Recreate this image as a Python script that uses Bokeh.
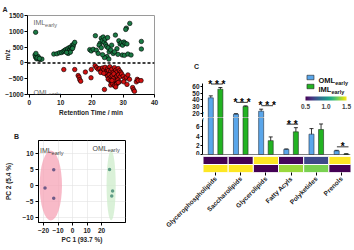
import math
from bokeh.plotting import figure
from bokeh.models import (Span, Label, Whisker, TeeHead, ColumnDataSource,
                          LinearColorMapper, ColorBar, FixedTicker, PrintfTickFormatter)
from bokeh.layouts import row, column
from bokeh.palettes import Viridis256
from bokeh.transform import transform
from bokeh.embed import file_html
from bokeh.resources import INLINE

FONT = "Liberation Sans"

# ---------------- data: panel A (retention time vs m/z) ----------------
iml_rt = [2.0, 1.8, 2.0, 2.3, 2.8, 3.0, 3.5, 4.0, 2.1, 2.5, 3.2,
          7.8, 8.8, 9.6, 10.3, 10.8, 11.2, 11.6, 12.0, 12.2, 12.5, 12.7, 13.0, 13.2, 13.5, 13.7, 14.0, 14.2, 14.5, 12.4, 13.1, 11.9, 13.8,
          19.3, 19.8, 20.4, 21.1, 21.4, 22.0, 22.6, 23.0, 23.3, 23.6, 23.9, 24.2, 24.4, 24.7, 25.0, 25.2, 25.5, 24.8, 25.4, 24.0, 23.4,
          26.0, 26.3, 26.8, 27.5, 28.0, 28.6, 29.0, 29.4, 29.8, 30.2, 30.6, 31.0, 30.8, 31.2, 32.1, 29.7, 30.4, 31.5, 32.5, 28.3, 27.2, 35.8, 35.8, 22.3, 23.0]
iml_mz = [970, 250, 180, 130, 200, 120, 110, 120, 300, 160, 140,
          280, 290, 320, 330, 360, 390, 420, 380, 450, 350, 480, 420, 500, 440, 560, 520, 600, 650, 300, 340, 330, 460,
          420, 380, 430, 860, 400, 300, 620, 780, 700, 820, 650, 750, 580, 520, 800, 480, 350, 200, 120, 170, 260,
          410, 560, 300, 880, 450, 700, 600, 640, 560, 660, 620, 1100, 1060, 600, 1250, 250, 240, 280, 250, 270, 350, 680, 440, 560, 480]
oml_rt = [11.0, 14.5, 15.6, 15.9, 16.1, 16.4, 17.9, 19.7, 19.8,
          21.0, 21.5, 22.0, 22.5, 23.0, 23.4, 23.8, 24.2, 24.6, 25.0, 25.3, 25.7, 26.0, 26.4, 26.8, 27.2, 27.6, 28.0, 28.4, 28.8, 29.2,
          24.5, 25.0, 25.5, 26.0, 26.5, 27.0, 27.5, 28.0, 28.5, 29.0,
          25.2, 25.8, 26.3, 26.8, 27.3, 27.8, 28.3, 28.8,
          26.0, 26.6, 27.2, 27.8, 28.4, 26.4, 27.6,
          29.5, 30.0, 30.5, 31.0, 31.5, 32.0, 30.2, 31.2,
          24.0, 33.0, 33.3, 33.6, 34.2, 34.5, 34.8, 35.7, 22.8, 23.8]
oml_mz = [-210, -210, -400, -450, -530, -580, -290, -470, -210,
          -90, -150, -200, -180, -250, -160, -220, -140, -280, -190, -240, -120, -260, -200, -300, -150, -230, -280, -180, -250, -300,
          -350, -420, -380, -450, -400, -350, -470, -420, -380, -440,
          -520, -560, -600, -500, -580, -650, -540, -600,
          -700, -650, -720, -680, -620, -560, -760,
          -350, -420, -500, -450, -380, -520, -600, -680,
          -840, -780, -850, -900, -600, -520, -560, -560, -300, -330]
a_xticks = [0, 10, 20, 30, 40]
a_yticks = [-1000, -500, 0, 500, 1000, 1500]

# ---------------- data: panel B (PCA) ----------------
pc1_iml = [-19.0, -13.0, -13.0]
pc2_iml = [-0.8, 4.9, -4.0]
pc1_oml = [25.5, 27.6, 27.0]
pc2_oml = [5.0, -1.7, -3.3]
ell_cx = [-15.0, 26.6]
ell_cy = [0.0, 0.0]
ell_w = [15.4, 6.3]
ell_h = [21.8, 21.8]
b_xticks = [-20, -10, 0, 10, 20]
b_yticks = [-10, -5, 0, 5, 10]

# ---------------- data: panel C (lipid classes) ----------------
categories = ["Glycerophospholipids", "Saccharolipids", "Glycerolipids",
              "Fatty Acyls", "Polyketides", "Prenols"]
oml_mol = [43.0, 18.5, 23.0, 1.1, 4.4, 0.8]
oml_err = [3.0, 0.8, 3.0, 0.1, 1.2, 0.1]
iml_mol = [56.0, 30.0, 3.0, 4.9, 5.4, 0.1]
iml_err = [2.5, 1.0, 0.8, 0.9, 1.2, 0.05]
sig_text = ["* * *", "* * *", "* * *", "* *", "", "*"]
heat_oml = [0.5, 0.5, 1.5, 0.52, 0.72, 1.5]
heat_iml = [1.5, 1.5, 0.5, 1.35, 1.3, 0.5]
c_top_ticks = [20, 30, 40, 50, 60]
c_bot_ticks = [0, 2, 4, 6]
cbar_ticks = [0.5, 1.0, 1.5]

BLUE = "#5aa6ea"
GREEN = "#22b322"

# em widths (Arial / Liberation Sans) for subscript placement
EM = {("IML", False): 1.667, ("OML", False): 2.167,
      ("IML", True): 1.722, ("OML", True): 2.222}


def style_axis(ax, size="6.5px"):
    ax.major_label_text_font = FONT
    ax.major_label_text_font_style = "bold"
    ax.major_label_text_font_size = size
    ax.major_label_text_color = "#222222"
    ax.axis_label_text_font = FONT
    ax.axis_label_text_font_style = "bold"
    ax.axis_label_text_font_size = size
    ax.axis_label_text_color = "#222222"
    ax.minor_tick_line_color = None
    ax.major_tick_in = 0
    ax.major_tick_out = 3
    ax.major_label_standoff = 2


def panel_letter(p, text, offset, standoff):
    p.title.text = text
    p.title.align = "left"
    p.title.offset = offset
    p.title.standoff = standoff
    p.title.text_font = FONT
    p.title.text_font_size = "7px"
    p.title.text_font_style = "bold"
    p.title.text_color = "#222222"


def lab(p, x, y, text, size, color="#222222", bold=True, align="left",
        baseline="alphabetic", x_offset=0, angle=0):
    p.add_layout(Label(x=x, y=y, text=text, text_font=FONT,
                       text_font_size=size, text_color=color,
                       text_font_style="bold" if bold else "normal",
                       text_align=align, text_baseline=baseline,
                       x_offset=x_offset, angle=angle))


def sub_label(p, x, y, dy, main, size, sub_size, color, bold, align="left"):
    w = EM[(main, bold)] * float(size[:-2])
    if align == "left":
        lab(p, x, y, main, size, color, bold, "left")
        lab(p, x, y - dy, "early", sub_size, color, bold, "left", x_offset=w)
    else:
        sw = (2.335 if bold else 2.167) * float(sub_size[:-2])
        lab(p, x, y - dy, "early", sub_size, color, bold, "right")
        lab(p, x, y, main, size, color, bold, "right", x_offset=-sw)


# ================= Panel A =================
pA = figure(width=160, height=125, x_range=(-0.6, 40), y_range=(-1000, 1500),
            output_backend="svg", toolbar_location=None,
            min_border_left=27, min_border_right=6, min_border_top=15,
            min_border_bottom=31)
pA.grid.visible = False
pA.outline_line_color = "#9a9a9a"
pA.xaxis.ticker = FixedTicker(ticks=a_xticks)
pA.yaxis.ticker = FixedTicker(ticks=a_yticks)
pA.xaxis.axis_label = "Retention Time / min"
pA.yaxis.axis_label = "m/z"
style_axis(pA.xaxis[0])
style_axis(pA.yaxis[0])
pA.yaxis.major_label_standoff = 1
pA.yaxis.axis_label_standoff = -9
pA.xaxis.axis_label_standoff = 1
pA.add_layout(Span(location=0, dimension="width", line_color="black",
                   line_width=1.5, line_dash="3 2"))
pA.scatter(iml_rt, iml_mz, size=4.5, fill_color="#1b7a45", line_color="black", line_width=0.6)
pA.scatter(oml_rt, oml_mz, size=4.5, fill_color="#d10f0f", line_color="black", line_width=0.6)
sub_label(pA, 1.3, 1263, 63, "IML", "7px", "5.5px", "#666666", False)
sub_label(pA, 1.3, -921, 63, "OML", "7px", "5.5px", "#666666", False)
panel_letter(pA, "A", -25, 6)

# ================= Panel B =================
pB = figure(width=134, height=125, x_range=(-23.5, 36.5), y_range=(-11.56, 14.06),
            output_backend="svg", toolbar_location=None,
            min_border_left=38, min_border_right=9, min_border_top=15,
            min_border_bottom=28)
pB.outline_line_color = "black"
pB.grid.grid_line_color = "#e3e3e3"
pB.grid.grid_line_width = 0.6
pB.xaxis.ticker = FixedTicker(ticks=b_xticks)
pB.yaxis.ticker = FixedTicker(ticks=b_yticks)
pB.xaxis.axis_label = "PC 1 (93.7 %)"
pB.yaxis.axis_label = "PC 2 (5.4 %)"
style_axis(pB.xaxis[0])
style_axis(pB.yaxis[0])
pB.xaxis.axis_label_standoff = 0
pB.yaxis.axis_label_standoff = 7
pB.ellipse(x=ell_cx, y=ell_cy, width=ell_w, height=ell_h,
           fill_color=["#f5a3b6", "#cdeccb"], fill_alpha=0.75, line_color=None)
pB.scatter(pc1_iml, pc2_iml, size=3.5, fill_color="#6e5a88", line_color=None)
pB.scatter(pc1_oml, pc2_oml, size=3.5, fill_color="#5f9c86", line_color=None)
sub_label(pB, -22.5, 10.9, 0.6, "IML", "7px", "5.5px", "#444444", False)
sub_label(pB, 13.8, 11.6, 0.6, "OML", "7px", "5.5px", "#444444", False)
panel_letter(pB, "B", -24.5, 1)

# ================= Panel C =================
XR = (-0.52, 5.36)
xs = list(range(len(categories)))
x_oml = [i - 0.19 for i in xs]
x_iml = [i + 0.19 for i in xs]


def bar_fig(height, yr, btop, bbot, ticks, bounds):
    p = figure(width=194, height=height, x_range=XR, y_range=yr,
               x_axis_location=None, output_backend="svg", toolbar_location=None,
               min_border_left=42, min_border_right=4, min_border_top=btop,
               min_border_bottom=bbot)
    p.grid.visible = False
    p.outline_line_color = None
    p.yaxis.ticker = FixedTicker(ticks=ticks)
    p.yaxis.bounds = bounds
    style_axis(p.yaxis[0])
    p.yaxis.major_tick_out = 2
    p.yaxis.major_label_standoff = 1
    p.vbar(x=x_oml, top=oml_mol, width=0.2, fill_color=BLUE, line_color="#223344", line_width=0.6)
    p.vbar(x=x_iml, top=iml_mol, width=0.2, fill_color=GREEN, line_color="#223322", line_width=0.6)
    lo, hi = yr
    for xx, vv, ee in ((x_oml, oml_mol, oml_err), (x_iml, iml_mol, iml_err)):
        keep = [i for i in xs if lo < vv[i] < hi]
        src = ColumnDataSource(dict(x=[xx[i] for i in keep],
                                    upper=[vv[i] + ee[i] for i in keep],
                                    lower=[vv[i] - ee[i] for i in keep]))
        p.add_layout(Whisker(source=src, base="x", upper="upper", lower="lower",
                             line_color="black", line_width=0.8,
                             upper_head=TeeHead(size=4, line_width=0.8),
                             lower_head=TeeHead(size=4, line_width=0.8)))
    return p


pC1 = bar_fig(117, (13.56, 84.0), 70, 0, c_top_ticks, (14, 64.5))
pC2 = bar_fig(38, (0, 8.0), 0, 1, c_bot_ticks, (0, 7.6))
pC2.add_layout(Span(location=0, dimension="width", line_color="black", line_width=1.2))
panel_letter(pC1, "C", -8.5, 1)

# significance marks
for i, s in enumerate(sig_text):
    if not s:
        continue
    top = max(oml_mol[i] + oml_err[i], iml_mol[i] + iml_err[i])
    if top > 8:
        p, ly = pC1, top + 3.5 / 0.6675
    else:
        p, ly = pC2, top + 3.5 / 4.63
    p.segment(x0=[i - 0.18], x1=[i + 0.28], y0=[ly], y1=[ly], line_color="black", line_width=0.8)
    lab(p, i + 0.05, ly, s, "10px", "black", True, "center", "alphabetic")

# legend
pC1.rect(x=[3.77, 3.77], y=[73.5, 60.0], width=7, height=4.5,
         width_units="screen", height_units="screen",
         fill_color=[BLUE, GREEN], line_color="#222222", line_width=0.6)
sub_label(pC1, 4.09, 69.0, 3.0, "OML", "7.5px", "5.5px", "#111111", True)
sub_label(pC1, 4.09, 55.5, 3.0, "IML", "7.5px", "5.5px", "#111111", True)
mapper = LinearColorMapper(palette=Viridis256, low=0.5, high=1.5)
cb = ColorBar(color_mapper=mapper, orientation="horizontal", location=(103, 6),
              width=41, height=4, padding=0, ticker=FixedTicker(ticks=cbar_ticks),
              formatter=PrintfTickFormatter(format="%.1f"),
              major_label_text_font=FONT, major_label_text_font_size="6.5px",
              major_label_text_font_style="bold", major_tick_line_color=None,
              bar_line_color=None, background_fill_alpha=0, border_line_color=None,
              label_standoff=3)
pC1.add_layout(cb)
lab(pC1, -0.52, 18.05, "/", "7px", "black", True, "center", "middle")
lab(pC2, -0.52, 7.35, "/", "7px", "black", True, "center", "middle")
lab(pC1, -1.08, 27.8, "mol%", "6.5px", "#222222", True, "center", "middle", angle=math.pi / 2)

# heatmap
pC3 = figure(width=194, height=95, x_range=XR, y_range=(0, 2),
             y_axis_location=None, output_backend="svg", toolbar_location=None,
             min_border_left=42, min_border_right=4, min_border_top=1,
             min_border_bottom=78)
pC3.grid.visible = False
pC3.outline_line_color = None
hsrc = ColumnDataSource(dict(x=xs + xs, y=[1.5] * len(xs) + [0.5] * len(xs),
                             v=heat_oml + heat_iml))
pC3.rect(x="x", y="y", width=1, height=1, source=hsrc,
         fill_color=transform("v", mapper), line_color="white", line_width=1)
pC3.xaxis.ticker = FixedTicker(ticks=xs)
pC3.xaxis.major_label_overrides = {i: c for i, c in enumerate(categories)}
pC3.xaxis.major_label_orientation = math.pi / 4
style_axis(pC3.xaxis[0])
pC3.xaxis.axis_line_color = None
pC3.xaxis.major_tick_out = 3
sub_label(pC3, -0.64, 1.25, 0.25, "OML", "7px", "5.5px", "#111111", True, "right")
sub_label(pC3, -0.64, 0.25, 0.25, "IML", "7px", "5.5px", "#111111", True, "right")

root = row(column(row(pA), row(pB)), column(pC1, pC2, pC3))
open("out.html", "w").write(file_html(root, INLINE))
